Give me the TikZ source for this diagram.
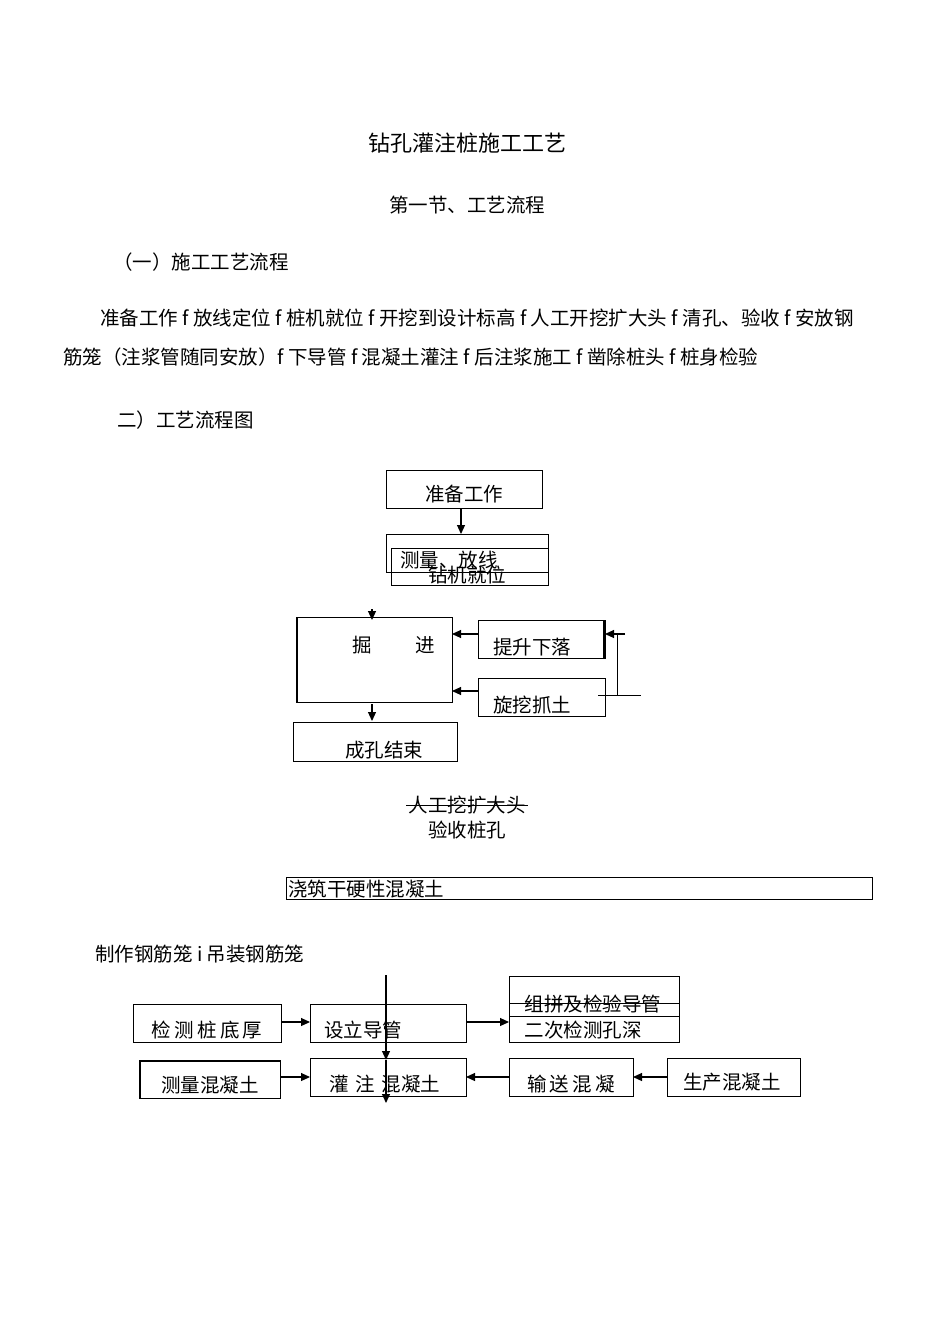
\documentclass[tikz,border=0pt]{standalone}
\usepackage{fontspec}
\setmainfont{Noto Sans CJK SC}
\usetikzlibrary{arrows.meta}
\begin{document}
\begin{tikzpicture}[x=1pt,y=-1pt,
  bx/.style={draw,line width=0.8pt},
  ar/.style={line width=1.1pt,-{Triangle[length=9pt,width=8pt]}},
  tx/.style={inner sep=0pt,font=\fontsize{19.5}{22}\selectfont},
  tl/.style={tx,anchor=west}]
\useasboundingbox[fill=white] (0,0) rectangle (950,1344);
\node[tx,font=\fontsize{22}{26}\selectfont] (t1) at (467,143) {钻孔灌注桩施工工艺};
\node[tx] (t2) at (467,205) {第一节、工艺流程};
\node[tl] (t3) at (113,262) {（一）施工工艺流程};
\node[tl] (p1) at (100,318) {准备工作 f 放线定位 f 桩机就位 f 开挖到设计标高 f 人工开挖扩大头 f 清孔、验收 f 安放钢};
\node[tl] (p2) at (63,357) {筋笼（注浆管随同安放）f 下导管 f 混凝土灌注 f 后注浆施工 f 凿除桩头 f 桩身检验};
\node[tl] (t4) at (117,420) {二）工艺流程图};
% top chart
\draw[bx] (386,470) rectangle (542,508);
\node[tx] (a) at (464,494) {准备工作};
\draw[bx] (386,534) rectangle (548,572);
\draw[bx] (391,548) rectangle (548,585);
\node[tx] (b) at (449,560) {测量、放线};
\node[tx] (c) at (467,575) {钻机就位};
\coordinate (a1) at (461,508); \coordinate (a2) at (461,534);
\draw[ar] (a1) -- (a2);
\draw[bx] (296,617) rectangle (452,702);
\draw[line width=2pt] (297,617) -- (297,702);
\node[tx] (d1) at (362,645) {掘};
\node[tx] (d2) at (425,645) {进};
\draw[bx] (478,620) rectangle (605,658);
\draw[line width=2pt] (604,620) -- (604,658);
\node[tx] (e) at (532,647) {提升下落};
\draw[bx] (478,678) rectangle (605,716);
\node[tx] (f) at (532,705) {旋挖抓土};
\coordinate (k0) at (372,609); \coordinate (k1) at (372,620);
\draw[ar] (k0) -- (k1);
\coordinate (e0) at (478,634); \coordinate (e1) at (452,634);
\draw[ar] (e0) -- (e1);
\coordinate (f0) at (478,691); \coordinate (f1) at (452,691);
\draw[ar] (f0) -- (f1);
\coordinate (r0) at (617,634); \coordinate (r1) at (617,695);
\draw[line width=0.8pt] (r0) -- (r1);
\coordinate (r2) at (625,634); \coordinate (r3) at (605,634);
\draw[ar] (r2) -- (r3);
\coordinate (h0) at (598,695); \coordinate (h1) at (641,695);
\draw[line width=0.8pt] (h0) -- (h1);
\coordinate (g0) at (372,704); \coordinate (g1) at (372,721);
\draw[ar] (g0) -- (g1);
\draw[bx] (293,722) rectangle (457,761);
\node[tx] (g) at (384,750) {成孔结束};
\node[tx] (s1) at (467,805) {人工挖扩大头};
\draw[line width=1pt] (406,805) -- (528,805);
\node[tx] (s2) at (467,830) {验收桩孔};
\draw[bx] (286,877) rectangle (872,899);
\node[tl] (s3) at (288,889) {浇筑干硬性混凝土};
\node[tl] (s4) at (95,954) {制作钢筋笼 i 吊装钢筋笼};
% bottom chart
\draw[bx] (133,1004) rectangle (281,1042);
\node[tx] (m1) at (207,1030) {检\,测\,桩\,底\,厚};
\draw[bx] (310,1004) rectangle (466,1042);
\node[tx] (m2) at (363,1030) {设立导管};
\draw[bx] (509,976) rectangle (679,1042);
\draw[line width=0.8pt] (509,1003) -- (679,1003);
\draw[line width=0.8pt] (509,1016) -- (679,1016);
\node[tx] (m3) at (593,1004) {组拼及检验导管};
\node[tx] (m4) at (583,1030) {二次检测孔深};
\draw[bx] (139,1060) rectangle (280,1098);
\draw[line width=2pt] (140,1060) -- (140,1098);
\draw[line width=2pt] (139,1061) -- (280,1061);
\node[tx] (n1) at (210,1085) {测量混凝土};
\draw[bx] (310,1058) rectangle (466,1096);
\node[tx] (n2) at (385,1084) {灌\,\,注\,\,混凝土};
\draw[bx] (509,1058) rectangle (633,1096);
\node[tx] (n3) at (571,1084) {输\,送\,混\,凝};
\draw[bx] (667,1058) rectangle (800,1096);
\node[tx] (n4) at (732,1082) {生产混凝土};
\coordinate (v0) at (386,975); \coordinate (v1) at (386,1060); \coordinate (v2) at (386,1103);
\draw[ar] (v0) -- (v1);
\draw[ar] (v1) -- (v2);
\draw[ar] (281,1022) -- (310,1022);
\draw[ar] (466,1022) -- (509,1022);
\draw[ar] (280,1077) -- (310,1077);
\draw[ar] (509,1077) -- (466,1077);
\draw[ar] (667,1077) -- (633,1077);
\end{tikzpicture}
\end{document}
